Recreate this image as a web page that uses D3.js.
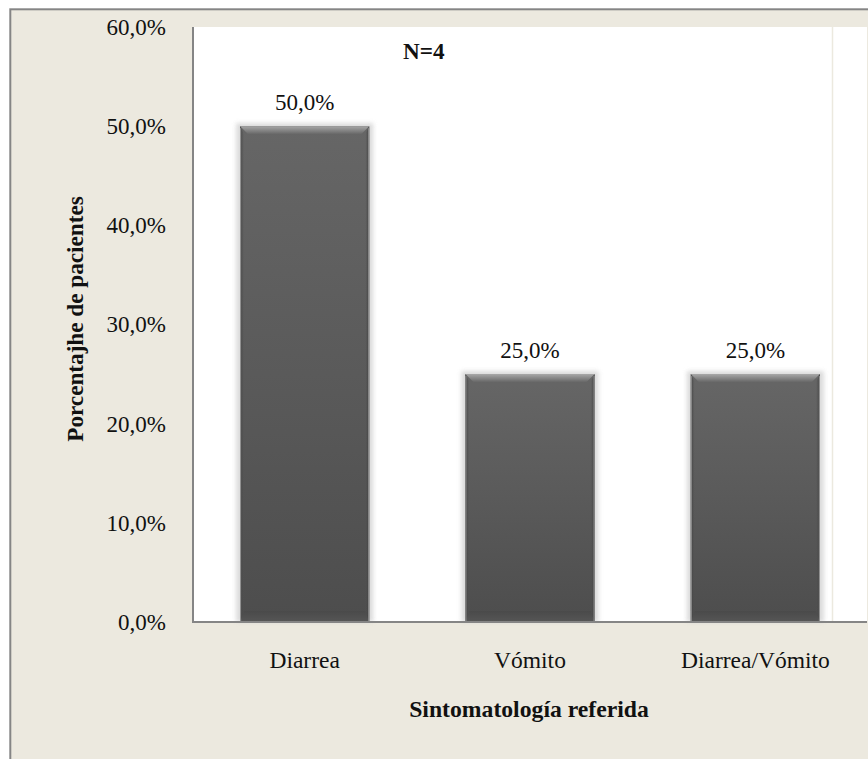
<!DOCTYPE html>
<html>
<head>
<meta charset="utf-8">
<script src="https://cdn.jsdelivr.net/npm/d3@7"></script>
<style>
  html, body { margin: 0; padding: 0; background: #ffffff; }
  svg { display: block; }
  text { font-family: "Liberation Serif", "Times New Roman", serif; fill: #111; }
</style>
</head>
<body>
<svg id="chart" width="868" height="759"></svg>
<script>
// Data
const categories = ["Diarrea", "Vómito", "Diarrea/Vómito"];
const percentages = [50.0, 25.0, 25.0];
const yTicks = [0, 10, 20, 30, 40, 50, 60];
const sampleLabel = "N=4";
const xTitle = "Sintomatología referida";
const yTitle = "Porcentajhe de pacientes";

const W = 868, H = 759;
const plot = { left: 193, top: 27, right: 867, bottom: 622 };

const svg = d3.select("#chart");
const defs = svg.append("defs");

const locale = d3.formatLocale({ decimal: ",", thousands: ".", grouping: [3], currency: ["", "€"] });
const fmt = v => locale.format(".1f")(v) + "%";

const y = d3.scaleLinear().domain([0, 60]).range([plot.bottom, plot.top]);
const x = d3.scaleBand().domain(categories)
  .range([plot.left, plot.right])
  .paddingInner(0.427).paddingOuter(0.209);

// Gradients for the bevelled bars
function grad(id, stops, vertical = true) {
  const g = defs.append("linearGradient").attr("id", id)
    .attr("x1", 0).attr("y1", 0).attr("x2", vertical ? 0 : 1).attr("y2", vertical ? 1 : 0);
  stops.forEach(([o, c, a]) => g.append("stop").attr("offset", o).attr("stop-color", c).attr("stop-opacity", a == null ? 1 : a));
}
grad("bodyGrad", [[0, "#666666"], [0.5, "#5a5a5a"], [1, "#4d4d4d"]]);
grad("topGrad", [[0, "#a8a8a8"], [1, "#676767"]]);
grad("bottomGrad", [[0, "#4a4a4a"], [1, "#565656"]]);
grad("leftGrad", [[0, "#3c3c3c"], [1, "#555555", 0.0]], false);
grad("rightGrad", [[0, "#555555", 0.0], [1, "#3a3a3a"]], false);

const blur = defs.append("filter").attr("id", "glow")
  .attr("x", "-20%").attr("y", "-20%").attr("width", "140%").attr("height", "140%");
blur.append("feGaussianBlur").attr("stdDeviation", 2);

// Frame and background
svg.append("rect").attr("x", 10.3).attr("y", 9.3).attr("width", W + 20).attr("height", H + 20)
  .attr("fill", "#ECE9DF").attr("stroke", "#858585").attr("stroke-width", 2);

svg.append("rect").attr("x", plot.left).attr("y", plot.top)
  .attr("width", plot.right - plot.left).attr("height", plot.bottom - plot.top)
  .attr("fill", "#ffffff");

svg.append("line").attr("x1", 832.5).attr("x2", 832.5).attr("y1", plot.top).attr("y2", plot.bottom)
  .attr("stroke", "#ECE9DF").attr("stroke-width", 1.5);

// Bars
const bars = svg.append("g").selectAll("g.bar")
  .data(categories.map((c, i) => ({ c, v: percentages[i] })))
  .join("g").attr("class", "bar");

bars.each(function (d) {
  const g = d3.select(this);
  const bx = x(d.c), bw = x.bandwidth();
  const by = y(d.v), bh = y(0) - y(d.v);
  const b = 8, s = 4, bb = 11;

  g.append("rect").attr("x", bx - 4).attr("y", by - 3).attr("width", bw + 8).attr("height", bh + 3)
    .attr("fill", "#cfcfcf").attr("opacity", 0.75).attr("filter", "url(#glow)");
  g.append("rect").attr("x", bx).attr("y", by).attr("width", bw).attr("height", bh)
    .attr("fill", "url(#bodyGrad)");
  g.append("polygon").attr("points", [[bx, by], [bx + bw, by], [bx + bw - b, by + b], [bx + b, by + b]].join(" "))
    .attr("fill", "url(#topGrad)");
  g.append("polygon").attr("points", [[bx, by + bh], [bx + bw, by + bh], [bx + bw - s, by + bh - bb], [bx + s, by + bh - bb]].join(" "))
    .attr("fill", "url(#bottomGrad)");
  g.append("polygon").attr("points", [[bx, by], [bx + s, by + b], [bx + s, by + bh - bb], [bx, by + bh]].join(" "))
    .attr("fill", "url(#leftGrad)");
  g.append("polygon").attr("points", [[bx + bw, by], [bx + bw - s, by + b], [bx + bw - s, by + bh - bb], [bx + bw, by + bh]].join(" "))
    .attr("fill", "url(#rightGrad)");
  g.append("line").attr("x1", bx + 0.5).attr("x2", bx + 0.5).attr("y1", by + 2).attr("y2", by + bh)
    .attr("stroke", "#9a9a9a").attr("stroke-width", 1);
  g.append("line").attr("x1", bx + bw - 0.5).attr("x2", bx + bw - 0.5).attr("y1", by + 2).attr("y2", by + bh)
    .attr("stroke", "#9a9a9a").attr("stroke-width", 1);

  g.append("text").attr("x", bx + bw / 2).attr("y", by - 16)
    .attr("text-anchor", "middle").attr("font-size", 23).text(fmt(d.v));
});

// Axes
const yAxis = d3.axisLeft(y).tickValues(yTicks).tickSize(0).tickPadding(27).tickFormat(fmt);
const gy = svg.append("g").attr("transform", `translate(${plot.left},0)`).call(yAxis);
gy.select(".domain").remove();
gy.selectAll("text").attr("font-size", 23).attr("font-family", "Liberation Serif").attr("fill", "#111");

const xAxis = d3.axisBottom(x).tickSize(0).tickPadding(29);
const gx = svg.append("g").attr("transform", `translate(0,${plot.bottom})`).call(xAxis);
gx.select(".domain").remove();
gx.selectAll("text").attr("font-size", 23.5).attr("font-family", "Liberation Serif").attr("fill", "#111");

svg.append("line").attr("x1", plot.left).attr("x2", plot.left).attr("y1", plot.top).attr("y2", plot.bottom + 1)
  .attr("stroke", "#858585").attr("stroke-width", 2);
svg.append("line").attr("x1", plot.left - 1).attr("x2", plot.right).attr("y1", plot.bottom).attr("y2", plot.bottom)
  .attr("stroke", "#858585").attr("stroke-width", 2);

// Titles
svg.append("text").attr("x", 529).attr("y", 717).attr("text-anchor", "middle")
  .attr("font-size", 23.7).attr("font-weight", "bold").text(xTitle);
svg.append("text").attr("transform", "translate(83,319) rotate(-90)").attr("text-anchor", "middle")
  .attr("font-size", 23.2).attr("font-weight", "bold").text(yTitle);
svg.append("text").attr("x", 403).attr("y", 59).attr("text-anchor", "start")
  .attr("font-size", 23.2).attr("font-weight", "bold").text(sampleLabel);
</script>
</body>
</html>
